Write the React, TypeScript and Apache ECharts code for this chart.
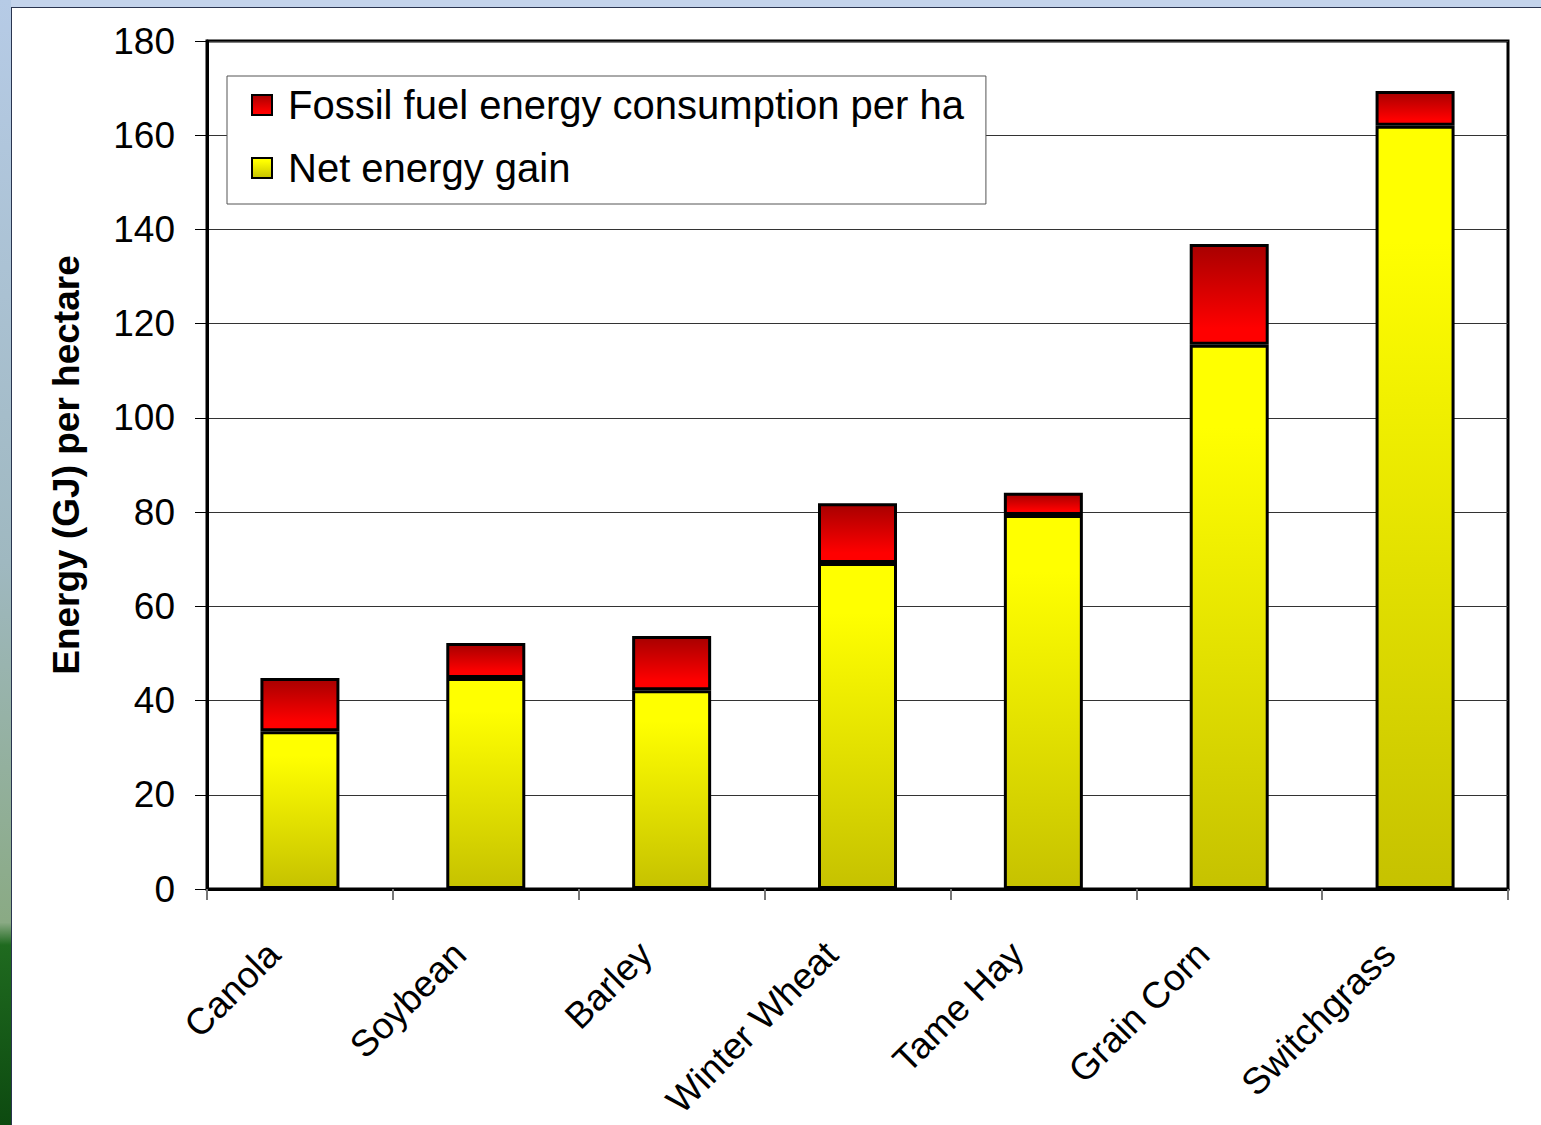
import React, { useEffect, useRef } from "react";
import * as echarts from "echarts";

const categories = ["Canola", "Soybean", "Barley", "Winter Wheat", "Tame Hay", "Grain Corn", "Switchgrass"];
const netEnergyGain = [33.5, 44.8, 42.2, 69.2, 79.4, 115.5, 162.0];
const fossilFuelUse = [11.3, 7.4, 11.5, 12.7, 4.7, 21.4, 7.4];
const seriesNames = ["Fossil fuel energy consumption per ha", "Net energy gain"];
const yMin = 0;
const yMax = 180;
const yInterval = 20;

const FONT = "'Liberation Sans', Arial, sans-serif";

export default function App() {
  const ref = useRef<HTMLDivElement>(null);
  useEffect(() => {
    if (!ref.current) return;
    const chart = echarts.init(ref.current, undefined, { renderer: "svg" });
    const redGrad = new echarts.graphic.LinearGradient(0, 0, 0, 1, [
      { offset: 0, color: "#a80000" },
      { offset: 0.85, color: "#ff0000" },
      { offset: 1, color: "#ff0000" },
    ]);
    const yellowGrad = new echarts.graphic.LinearGradient(0, 0, 0, 1, [
      { offset: 0, color: "#ffff00" },
      { offset: 0.15, color: "#ffff00" },
      { offset: 1, color: "#c6c200" },
    ]);
    chart.setOption({
      animation: false,
      backgroundColor: "#ffffff",
      textStyle: { fontFamily: FONT },
      graphic: [
        {
          type: "rect",
          z: -10,
          silent: true,
          shape: { x: 0, y: 0, width: 1541, height: 7 },
          style: { fill: "#c4d4ec" },
        },
        {
          type: "rect",
          z: -10,
          silent: true,
          shape: { x: 0, y: 0, width: 11, height: 1125 },
          style: {
            fill: new echarts.graphic.LinearGradient(0, 0, 0, 1, [
              { offset: 0, color: "#b6cbe6" },
              { offset: 0.5, color: "#9fb8c0" },
              { offset: 0.82, color: "#8aaa84" },
              { offset: 0.84, color: "#1f6a1f" },
              { offset: 1, color: "#0d4a10" },
            ]),
          },
        },
        {
          type: "line",
          silent: true,
          shape: { x1: 11, y1: 7.5, x2: 1541, y2: 7.5 },
          style: { stroke: "#2a3550", lineWidth: 1 },
        },
        {
          type: "line",
          silent: true,
          shape: { x1: 11.5, y1: 7, x2: 11.5, y2: 1125 },
          style: { stroke: "#2a3550", lineWidth: 1 },
        },
      ],
      grid: {
        left: 207,
        right: 33,
        top: 41,
        bottom: 236,
        outerBoundsMode: "none",
        containLabel: false,
        show: true,
        borderColor: "#000",
        borderWidth: 3,
        backgroundColor: "transparent",
      },
      legend: {
        orient: "vertical",
        left: 227,
        top: 76,
        data: seriesNames,
        icon: "rect",
        backgroundColor: "#ffffff",
        borderColor: "#555",
        borderWidth: 1,
        padding: [9, 22, 16, 24],
        itemGap: 23,
        itemWidth: 20,
        itemHeight: 20,
        itemStyle: { borderColor: "#000", borderWidth: 2 },
        textStyle: {
          fontFamily: FONT,
          fontSize: 40,
          color: "#000",
          lineHeight: 40,
          padding: [0, 0, 0, 11],
        },
        z: 5,
      },
      xAxis: {
        type: "category",
        data: categories,
        boundaryGap: true,
        axisLine: { show: true, lineStyle: { color: "#000", width: 3 } },
        axisTick: { show: true, length: 11, lineStyle: { color: "#777", width: 2 } },
        axisLabel: {
          rotate: 45,
          interval: 0,
          margin: 33,
          fontSize: 37,
          fontFamily: FONT,
          color: "#000",
          padding: [0, 37, 0, 0],
        },
        splitLine: { show: false },
      },
      yAxis: {
        type: "value",
        min: yMin,
        max: yMax,
        interval: yInterval,
        name: "Energy (GJ) per hectare",
        nameLocation: "middle",
        nameGap: 122,
        nameTextStyle: { fontSize: 37, fontWeight: "bold", fontFamily: FONT, color: "#000" },
        axisLine: { show: true, lineStyle: { color: "#000", width: 3 } },
        axisTick: { show: true, length: 12, lineStyle: { color: "#000", width: 1 } },
        axisLabel: { margin: 32, fontSize: 37, fontFamily: FONT, color: "#000" },
        splitLine: { show: true, lineStyle: { color: "#333", width: 1 } },
      },
      series: [
        {
          name: seriesNames[1],
          type: "bar",
          stack: "total",
          data: netEnergyGain,
          barWidth: 79,
          itemStyle: { color: yellowGrad, borderColor: "#000", borderWidth: 3 },
        },
        {
          name: seriesNames[0],
          type: "bar",
          stack: "total",
          data: fossilFuelUse,
          barWidth: 79,
          itemStyle: { color: redGrad, borderColor: "#000", borderWidth: 3 },
        },
      ],
    });
    return () => chart.dispose();
  }, []);
  return (
    <div
      ref={ref}
      style={{ position: "fixed", left: 0, top: 0, width: 1541, height: 1125 }}
    />
  );
}
